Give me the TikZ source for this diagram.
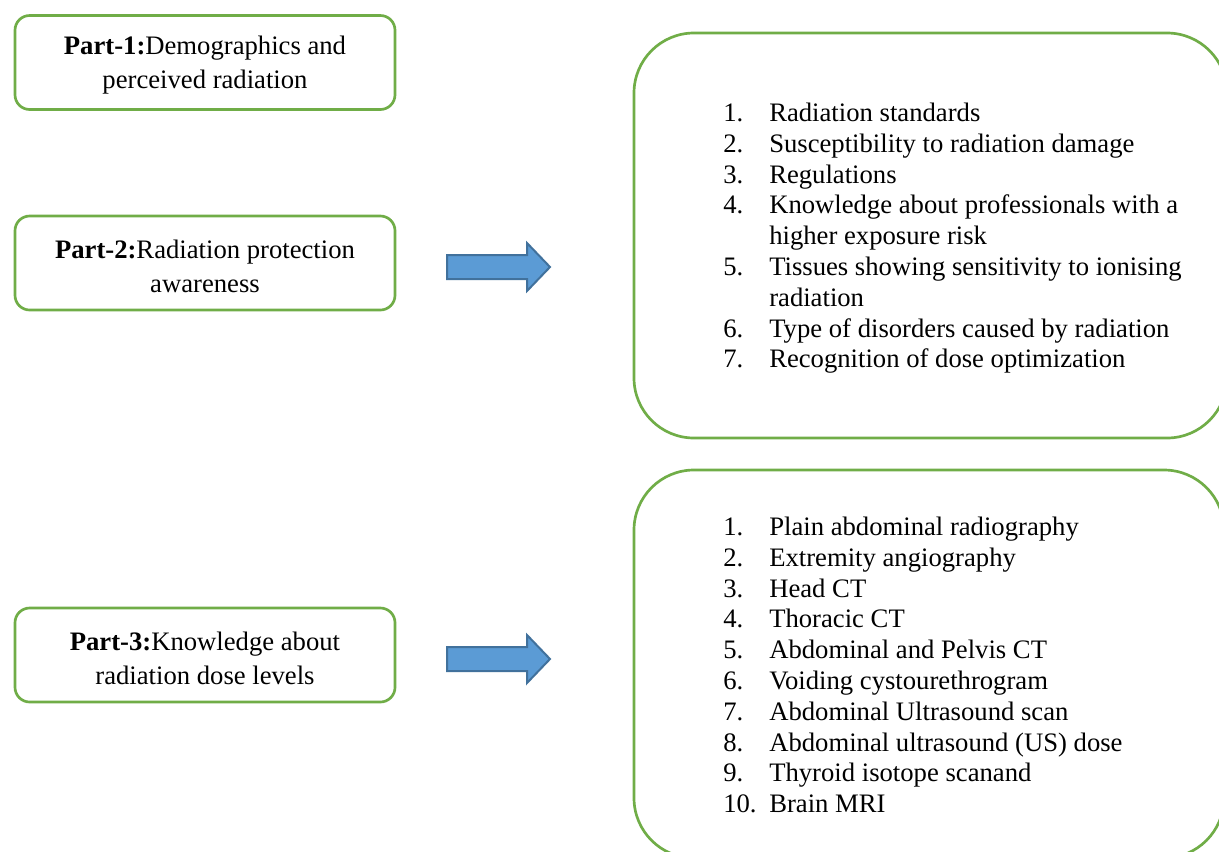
\documentclass[tikz,border=0pt]{standalone}
\usepackage{fontspec}
\setmainfont{Liberation Serif}
\definecolor{boxgreen}{HTML}{70AD47}
\definecolor{arrowfill}{HTML}{5B9BD5}
\definecolor{arrowline}{HTML}{41719C}
\tikzset{
  partbox/.style={draw=boxgreen, line width=2pt, rounded corners=11pt,
    minimum width=285pt, minimum height=70.5pt, inner sep=0pt},
  parttext/.style={align=center, font=\fontsize{20}{25.5}\selectfont, inner sep=0pt},
  bigbox/.style={draw=boxgreen, line width=2pt, rounded corners=45pt, inner sep=0pt},
  blockarrow/.style={draw=arrowline, fill=arrowfill, line width=1.5pt, line join=miter},
  listnum/.style={anchor=base west, inner sep=0pt, font=\fontsize{20}{24}\selectfont},
  listitem/.style={anchor=base west, inner sep=0pt, font=\fontsize{20}{24}\selectfont}
}
\begin{document}
\begin{tikzpicture}[x=0.75pt,y=-0.75pt]
\useasboundingbox (0,0) rectangle (1219,851);
\clip (0,0) rectangle (1219,851);
\fill[white] (0,0) rectangle (1219,851);
% left boxes
\node[partbox] (p1) at (205,62.5) {};
\node[partbox] (p2) at (205,263) {};
\node[partbox] (p3) at (205,655) {};
\node[parttext] (p1t) at ([yshift=-2.2pt]p1.center) {\textbf{Part-1:}Demographics and\\perceived radiation};
\node[parttext] (p2t) at ([yshift=-2.2pt]p2.center) {\textbf{Part-2:}Radiation protection\\awareness};
\node[parttext] (p3t) at ([yshift=-2.2pt]p3.center) {\textbf{Part-3:}Knowledge about\\radiation dose levels};
% arrows
\coordinate (a1) at (447,267);
\coordinate (a2) at (447,659);
\foreach \a in {a1,a2}{
  \draw[blockarrow] (\a) ++(0,-12) -- ++(80,0) -- ++(0,-12) -- ++(23,24)
    -- ++(-23,24) -- ++(0,-12) -- ++(-80,0) -- cycle;
}
% big boxes
\node[bigbox, minimum width=444.75pt, minimum height=303.75pt] (b1) at (930.5,235.5) {};
\node[bigbox, minimum width=442.5pt, minimum height=291pt] (b2) at (929,664) {};
% list 1
\foreach \n/\y/\t in {1./121.5/Radiation standards,
  2./152.3/Susceptibility to radiation damage,
  3./183.1/Regulations,
  4./213.9/Knowledge about professionals with a,
  5./275.5/Tissues showing sensitivity to ionising,
  6./337.1/Type of disorders caused by radiation,
  7./367.9/Recognition of dose optimization}{
  \node[listnum] (n1-\n) at (723,\y) {\n};
  \node[listitem] (t1-\n) at (769,\y) {\t};
}
\node[listitem] (t1-4b) at (769,244.7) {higher exposure risk};
\node[listitem] (t1-5b) at (769,306.3) {radiation};
% list 2
\foreach \n/\y/\t in {1./535.5/Plain abdominal radiography,
  2./566.3/Extremity angiography,
  3./597.1/Head CT,
  4./627.9/Thoracic CT,
  5./658.7/Abdominal and Pelvis CT,
  6./689.5/Voiding cystourethrogram,
  7./720.3/Abdominal Ultrasound scan,
  8./751.1/Abdominal ultrasound (US) dose,
  9./781.9/Thyroid isotope scanand,
  10./812.7/Brain MRI}{
  \node[listnum] (n2-\n) at (723,\y) {\n};
  \node[listitem] (t2-\n) at (769,\y) {\t};
}
\end{tikzpicture}
\end{document}
